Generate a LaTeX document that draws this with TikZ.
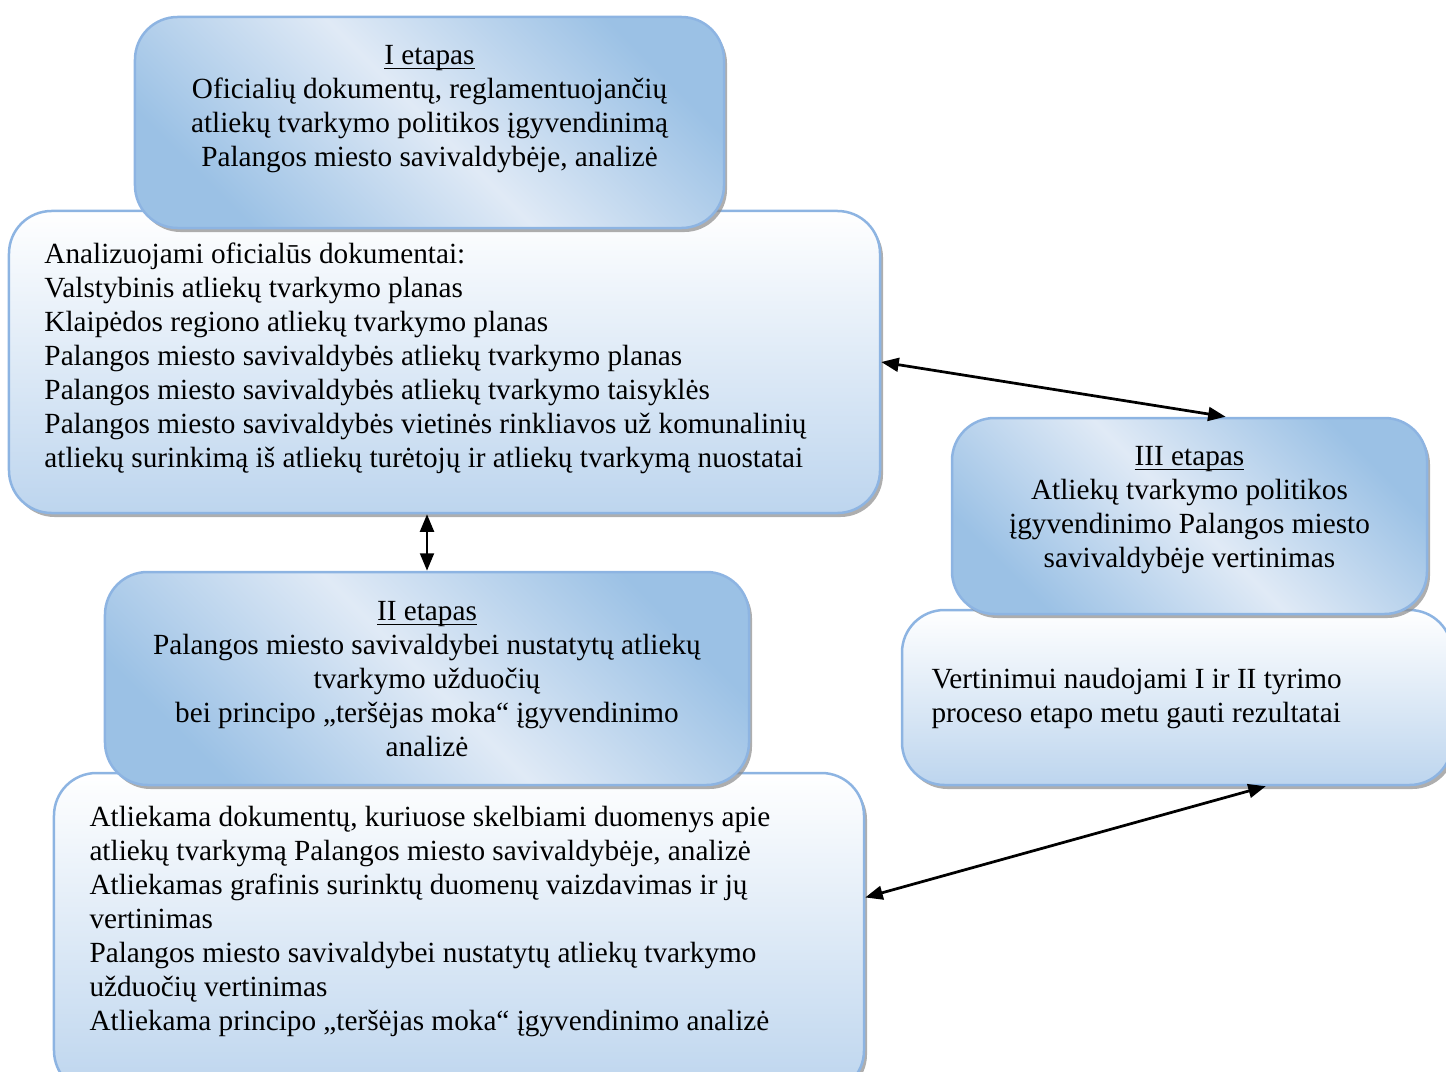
\documentclass[tikz,border=0pt]{standalone}
\usepackage{fontspec}
\setmainfont{Liberation Serif}
\usetikzlibrary{positioning, arrows.meta, shadows}

\definecolor{headblue}{HTML}{9BC1E5}
\definecolor{headlight}{HTML}{E0EAF6}
\definecolor{bodyblue}{HTML}{BDD5EE}
\definecolor{edgeblue}{HTML}{8DB4E2}

\newcommand{\stagename}[1]{\underline{\smash{#1}}}

\begin{document}
\begin{tikzpicture}[x=0.4pt, y=-0.4pt,
    every node/.style={font=\fontsize{11.7}{13.6}\selectfont},
    box/.style={rounded corners=17pt, draw=edgeblue, line width=1pt,
        drop shadow={shadow xshift=1.2pt, shadow yshift=-1.6pt, fill=black!45, opacity=0.7}},
    headbox/.style={box, top color=headblue, bottom color=headblue, middle color=headlight, shading angle=-45},
    bodybox/.style={box, top color=white, bottom color=bodyblue},
    headtext/.style={align=center, inner sep=0pt},
    bodytext/.style={align=left, anchor=west, inner sep=0pt},
    link/.style={{Triangle[length=7pt,width=5.5pt]}-{Triangle[length=7pt,width=5.5pt]}, line width=1.1pt}]

    \useasboundingbox (0,0) rectangle (1446,1072);

    % Stage I
    \node [bodybox, minimum width=348.4pt, minimum height=120.8pt] (body1) at (444.5,362) {};
    \node [bodytext] (list1) at (44,358) {Analizuojami oficialūs dokumentai:\\
        Valstybinis atliekų tvarkymo planas\\
        Klaipėdos regiono atliekų tvarkymo planas\\
        Palangos miesto savivaldybės atliekų tvarkymo planas\\
        Palangos miesto savivaldybės atliekų tvarkymo taisyklės\\
        Palangos miesto savivaldybės vietinės rinkliavos už komunalinių\\
        atliekų surinkimą iš atliekų turėtojų ir atliekų tvarkymą nuostatai};
    \node [headbox, minimum width=235.6pt, minimum height=84.4pt] (head1) at (429.5,122.5) {};
    \node [headtext] (title1) at (429.5,119) {\stagename{I etapas}\\
        Oficialių dokumentų, reglamentuojančių\\
        atliekų tvarkymo politikos įgyvendinimą\\
        Palangos miesto savivaldybėje, analizė};

    % Stage II
    \node [bodybox, minimum width=324pt, minimum height=128pt] (body2) at (459,933) {};
    \node [bodytext] (list2) at (89,921) {Atliekama dokumentų, kuriuose skelbiami duomenys apie\\
        atliekų tvarkymą Palangos miesto savivaldybėje, analizė\\
        Atliekamas grafinis surinktų duomenų vaizdavimas ir jų\\
        vertinimas\\
        Palangos miesto savivaldybei nustatytų atliekų tvarkymo\\
        užduočių vertinimas\\
        Atliekama principo „teršėjas moka“ įgyvendinimo analizė};
    \node [headbox, minimum width=257.6pt, minimum height=85.2pt] (head2) at (427,678.5) {};
    \node [headtext] (title2) at (427,689) {\stagename{II etapas}\\
        Palangos miesto savivaldybei nustatytų atliekų\\
        tvarkymo užduočių\\
        bei principo „teršėjas moka“ įgyvendinimo\\
        analizė};

    % Stage III
    \node [bodybox, minimum width=220pt, minimum height=70pt] (body3) at (1177,697.5) {};
    \node [bodytext] (list3) at (931,699) {Vertinimui naudojami I ir II tyrimo\\
        proceso etapo metu gauti rezultatai};
    \node [headbox, minimum width=190pt, minimum height=78.4pt] (head3) at (1189.5,516) {};
    \node [headtext] (title3) at (1189.5,520) {\stagename{III etapas}\\
        Atliekų tvarkymo politikos\\
        įgyvendinimo Palangos miesto\\
        savivaldybėje vertinimas};

    % Links between stages
    \draw [link] (body1.south -| head2.north) -- (head2.north);
    \draw [link] (body1.east) -- (head3.70);
    \draw [link] (body2.5) -- (body3.-45);
\end{tikzpicture}
\end{document}
